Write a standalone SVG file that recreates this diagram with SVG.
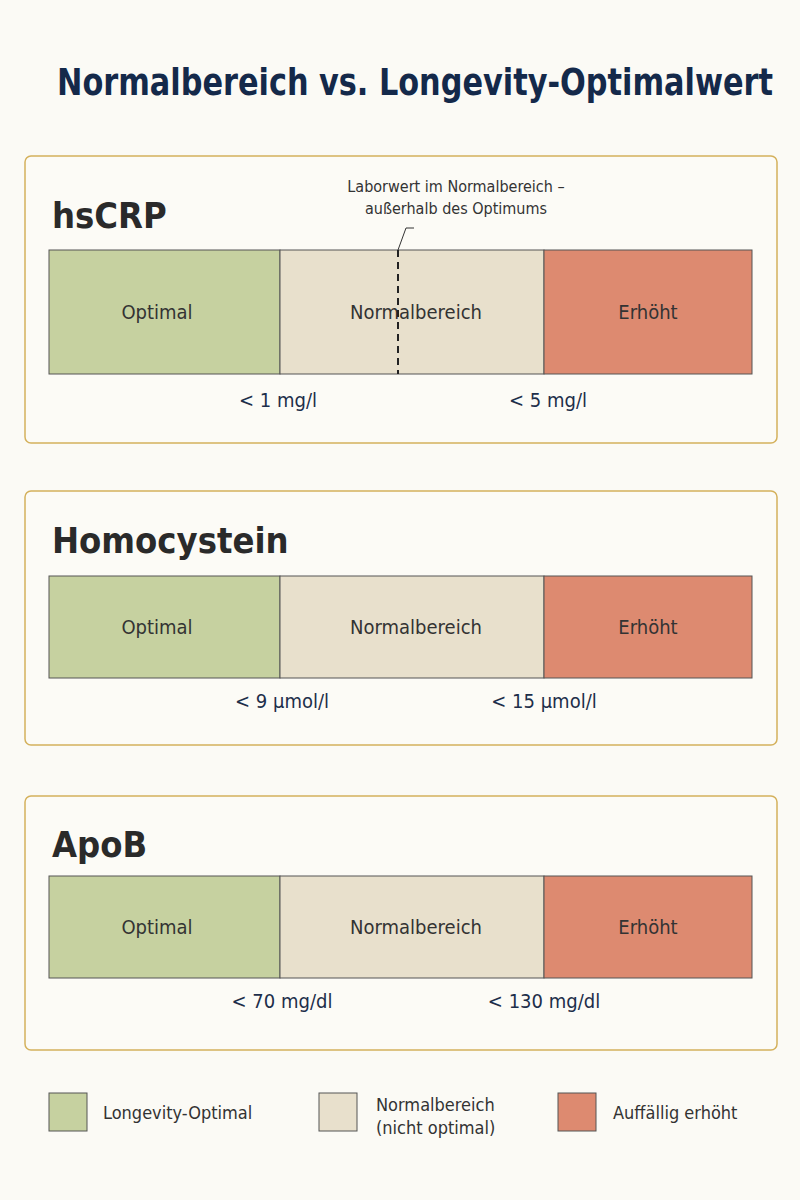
<svg xmlns="http://www.w3.org/2000/svg" width="800" height="1200" viewBox="0 0 800 1200">
<style>
text{font-family:"DejaVu Sans","Liberation Sans Narrow","Liberation Sans",sans-serif;font-stretch:condensed}
.card{fill:#fcfbf6;stroke:#d4b15c;stroke-width:1.5}
.g{fill:#c6d1a0;stroke:#555;stroke-width:1}
.n{fill:#e8e0cc;stroke:#555;stroke-width:1}
.r{fill:#dd8a70;stroke:#555;stroke-width:1}
.lbl{font-size:20px;fill:#333;text-anchor:middle}
.val{font-size:20px;fill:#1d2e4a;text-anchor:middle}
.h{font-size:36px;font-weight:bold;fill:#2a2a2a}
.leg{font-size:18px;fill:#333}
</style>
<rect width="800" height="1200" fill="#fbfaf5"/>
<text x="57" y="95" font-size="38" font-weight="bold" fill="#14294a" textLength="716" lengthAdjust="spacingAndGlyphs">Normalbereich vs. Longevity-Optimalwert</text>
<g id="hscrp">
<rect class="card" x="25" y="156" width="752" height="287" rx="6"/>
<text class="h" x="52" y="228">hsCRP</text>
<rect class="g" x="49" y="250" width="231" height="124"/>
<rect class="n" x="280" y="250" width="264" height="124"/>
<rect class="r" x="544" y="250" width="208" height="124"/>
<text class="lbl" x="157" y="319">Optimal</text>
<text class="lbl" x="416" y="319">Normalbereich</text>
<text class="lbl" x="648" y="319">Erhöht</text>
<text class="val" x="278" y="407">&lt; 1 mg/l</text>
<text class="val" x="548" y="407">&lt; 5 mg/l</text>
<text x="456" y="192" font-size="16" fill="#333" text-anchor="middle">Laborwert im Normalbereich –</text>
<text x="456" y="214" font-size="16" fill="#333" text-anchor="middle">außerhalb des Optimums</text>
<polyline points="398,250 406,228 414,228" fill="none" stroke="#333" stroke-width="1"/>
<line x1="398" y1="250" x2="398" y2="374" stroke="#222" stroke-width="2" stroke-dasharray="7,5"/>
</g>
<g id="homocystein">
<rect class="card" x="25" y="491" width="752" height="254" rx="6"/>
<text class="h" x="52" y="553">Homocystein</text>
<rect class="g" x="49" y="576" width="231" height="102"/>
<rect class="n" x="280" y="576" width="264" height="102"/>
<rect class="r" x="544" y="576" width="208" height="102"/>
<text class="lbl" x="157" y="634">Optimal</text>
<text class="lbl" x="416" y="634">Normalbereich</text>
<text class="lbl" x="648" y="634">Erhöht</text>
<text class="val" x="282" y="708">&lt; 9 µmol/l</text>
<text class="val" x="544" y="708">&lt; 15 µmol/l</text>
</g>
<g id="apob">
<rect class="card" x="25" y="796" width="752" height="254" rx="6"/>
<text class="h" x="52" y="857">ApoB</text>
<rect class="g" x="49" y="876" width="231" height="102"/>
<rect class="n" x="280" y="876" width="264" height="102"/>
<rect class="r" x="544" y="876" width="208" height="102"/>
<text class="lbl" x="157" y="934">Optimal</text>
<text class="lbl" x="416" y="934">Normalbereich</text>
<text class="lbl" x="648" y="934">Erhöht</text>
<text class="val" x="282" y="1008">&lt; 70 mg/dl</text>
<text class="val" x="544" y="1008">&lt; 130 mg/dl</text>
</g>
<g id="legend">
<rect class="g" x="49" y="1093" width="38" height="38"/>
<text class="leg" x="103" y="1119">Longevity-Optimal</text>
<rect class="n" x="319" y="1093" width="38" height="38"/>
<text class="leg" x="376" y="1111">Normalbereich</text>
<text class="leg" x="376" y="1134">(nicht optimal)</text>
<rect class="r" x="558" y="1093" width="38" height="38"/>
<text class="leg" x="613" y="1119">Auffällig erhöht</text>
</g>
</svg>
